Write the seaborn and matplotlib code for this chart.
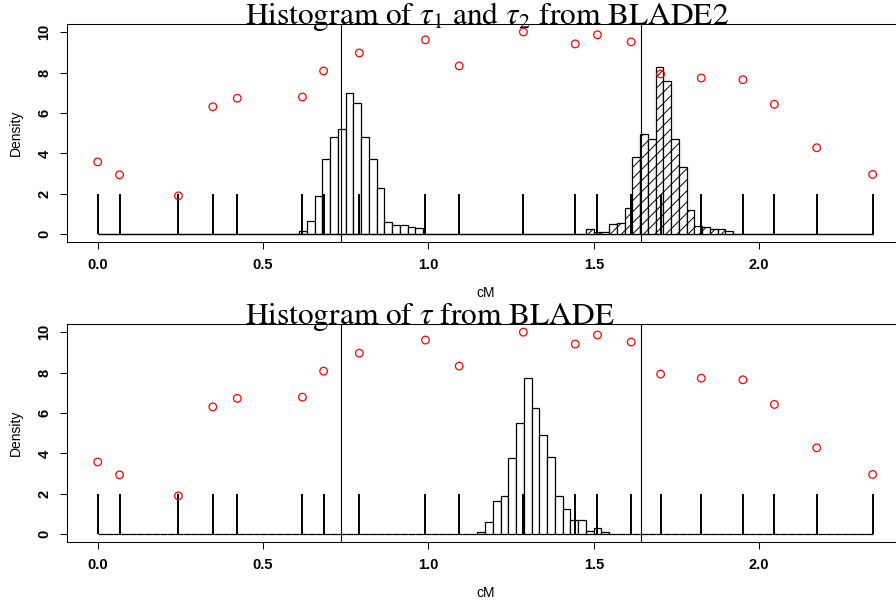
import numpy as np
import pandas as pd
import matplotlib
matplotlib.use("Agg")
import matplotlib.pyplot as plt
import seaborn as sns

# ---------------- data ----------------
marker_pos = [0.000, 0.066, 0.244, 0.348, 0.422, 0.619, 0.683, 0.791, 0.991, 1.093,
              1.287, 1.444, 1.511, 1.613, 1.702, 1.825, 1.951, 2.046, 2.174, 2.343]
marker_val = [3.58, 2.94, 1.90, 6.31, 6.73, 6.79, 8.08, 8.97, 9.62, 8.33,
              10.01, 9.42, 9.87, 9.52, 7.93, 7.73, 7.65, 6.43, 4.28, 2.96]
seg_height = 2

n_bins = 100                      # histogram grid over the marker range
tau1_first_bin = 26
tau1_density = [0.15, 0.66, 1.90, 3.71, 4.83, 5.20, 6.98, 6.49, 4.79, 3.71,
                2.29, 0.61, 0.45, 0.48, 0.38, 0.33]
tau2_first_bin = 63
tau2_density = [0.28, 0.13, 0.13, 0.53, 0.54, 1.32, 3.80, 4.98, 4.70, 8.30,
                7.57, 4.69, 3.35, 1.20, 0.41, 0.38, 0.25, 0.28, 0.16]
tau_first_bin = 49
tau_density = [0.13, 0.62, 1.66, 1.90, 3.76, 5.53, 7.73, 6.27, 4.94, 3.84,
               1.90, 1.23, 0.72, 0.72, 0.15, 0.30, 0.13]

cut_lines = [0.737, 1.644]
x_ticks = [0.0, 0.5, 1.0, 1.5, 2.0]
y_ticks = [0, 2, 4, 6, 8, 10]
titles = [r"Histogram of $\tau_1$ and $\tau_2$ from BLADE2",
          r"Histogram of $\tau$ from BLADE"]
x_label = "cM"
y_label = "Density"

# ---------------- style ----------------
plt.rcParams["font.family"] = ["Liberation Sans", "DejaVu Sans"]
plt.rcParams["mathtext.fontset"] = "stix"
plt.rcParams["hatch.linewidth"] = 0.7

fig = plt.figure(figsize=(8.96, 6.02), dpi=100)
ax_top = fig.add_axes([0.0745, 0.5975, 0.934, 0.3625])
ax_bot = fig.add_axes([0.0745, 0.0992, 0.934, 0.3621])

edges = np.linspace(0, max(marker_pos), n_bins + 1)
centers = (edges[:-1] + edges[1:]) / 2


def full_weights(first, dens):
    w = np.zeros(n_bins)
    w[first:first + len(dens)] = dens
    return w


def draw_hist(ax, first, dens, hatch=None):
    before = len(ax.patches)
    df = pd.DataFrame({"pos": centers, "dens": full_weights(first, dens)})
    sns.histplot(data=df, x="pos", weights="dens", bins=list(edges),
                 stat="count", fill=True, color="white", alpha=1,
                 edgecolor="black", linewidth=0.9, ax=ax)
    if hatch:
        for p in ax.patches[before:]:
            p.set_hatch(hatch)


def decorate(ax, title):
    ax.vlines(marker_pos, 0, seg_height, color="black", linewidth=1.4, zorder=3)
    sns.scatterplot(x=marker_pos, y=marker_val, marker="o", s=30,
                    facecolor="none", edgecolor="red", linewidth=0.9,
                    ax=ax, zorder=4)
    for c in cut_lines:
        ax.axvline(c, color="black", linewidth=0.8, zorder=3)

    r = max(marker_pos) - min(marker_pos)
    ax.set_xlim(min(marker_pos) - 0.04 * r, max(marker_pos) + 0.04 * r)
    ax.set_ylim(-0.4, 10.4)
    ax.set_xticks(x_ticks)
    ax.set_xticklabels([f"{t:.1f}" for t in x_ticks], fontsize=10.5,
                       fontweight="bold")
    ax.set_yticks(y_ticks)
    ax.set_yticklabels([str(t) for t in y_ticks], fontsize=10.5,
                       fontweight="bold", rotation=90, va="center")
    ax.tick_params(direction="out", length=5, width=0.75, pad=6)
    for s in ax.spines.values():
        s.set_linewidth(0.75)
        s.set_visible(True)
    ax.set_xlabel(x_label, fontsize=10)
    ax.set_ylabel(y_label, fontsize=10)
    ax.xaxis.set_label_coords(0.5, -0.20)
    ax.yaxis.set_label_coords(-0.052, 0.5)
    ax.grid(False)
    ax.text(0.213, 1.0, title, transform=ax.transAxes, ha="left",
            va="baseline", fontsize=22.6, family="STIXGeneral", clip_on=False)


draw_hist(ax_top, tau1_first_bin, tau1_density)
draw_hist(ax_top, tau2_first_bin, tau2_density, hatch="///")
decorate(ax_top, titles[0])

draw_hist(ax_bot, tau_first_bin, tau_density)
decorate(ax_bot, titles[1])

fig.savefig("out.png", dpi=100)
